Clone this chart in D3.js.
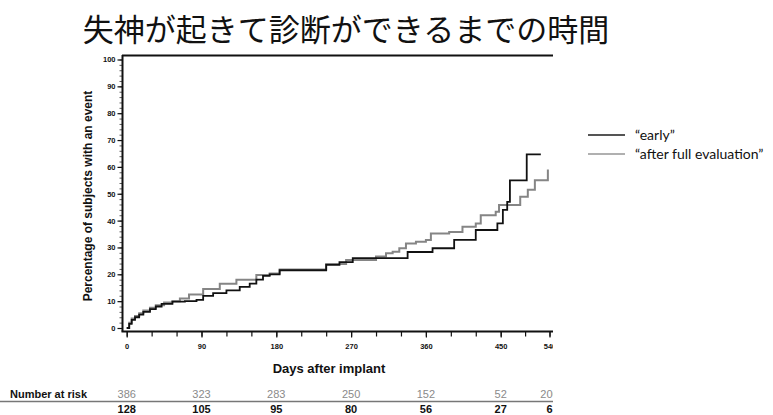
<!DOCTYPE html>
<html>
<head>
<meta charset="utf-8">
<script src="https://cdn.jsdelivr.net/npm/d3@7"></script>
<style>
  html, body { margin: 0; padding: 0; background: #fff; }
  svg { display: block; }
</style>
</head>
<body>
<svg id="chart" width="773" height="415"></svg>
<script>
// Kaplan–Meier style step curves: percentage of subjects with an event
const title = "失神が起きて診断ができるまでの時間";
const xTickValues = [0, 90, 180, 270, 360, 450, 540];
const xMinorValues = [0, 30, 60, 90, 120, 150, 180, 210, 240, 270, 300, 330, 360, 390, 420, 450, 495, 540];
const yTickValues = [0, 10, 20, 30, 40, 50, 60, 70, 80, 90, 100];
const seriesNames = ["“early”", "“after full evaluation”"];

// "early" group: [day, percent]
const earlyDays = [0, 3, 6, 10, 15, 20, 28, 35, 42, 55, 70, 84, 92, 104, 120, 136, 148, 156, 164, 172, 184, 240, 256, 272, 338, 368, 394, 420, 446, 454, 462, 467, 498, 524];
const earlyPct  = [0, 1.5, 3, 4, 5, 6, 7, 8, 9, 9.8, 10, 10.5, 12, 13, 14, 15.3, 16.5, 18, 19.4, 20, 21.5, 23.5, 24.5, 26, 28.3, 29.7, 32.8, 36.5, 39, 44, 47, 55, 64.7, 64.7];

// "after full evaluation" group: [day, percent]
const lateDays = [0, 3, 6, 10, 15, 20, 28, 35, 45, 55, 64, 75, 92, 112, 132, 156, 172, 184, 240, 264, 300, 312, 320, 328, 336, 348, 360, 366, 388, 404, 420, 426, 444, 448, 486, 500, 513, 537];
const latePct  = [0, 2, 3.5, 4.5, 5.5, 6.5, 7.5, 8.5, 9.5, 10, 11, 12.5, 14.5, 16.5, 18, 19.7, 20.3, 21.8, 23.8, 25.3, 26.6, 27.8, 28.4, 29.7, 31.5, 32.1, 32.8, 35.2, 35.8, 37.7, 38.9, 42, 43.3, 45.8, 48.9, 51.5, 55, 59];

// Number at risk under each x tick
const riskLate  = ["386", "323", "283", "250", "152", "52", "206"];
const riskEarly = ["128", "105", "95", "80", "56", "27", "6"];

const svg = d3.select("#chart");

// The last 90-day interval of the axis is drawn narrower than the others
const x = d3.scaleLinear().domain([0, 450, 540]).range([126.7, 500.7, 549.5]);
const y = d3.scaleLinear().domain([0, 100]).range([328, 59.5]);

// Title
svg.append("text")
  .attr("x", 346).attr("y", 41)
  .attr("text-anchor", "middle")
  .attr("font-family", "'Noto Sans CJK JP', sans-serif")
  .attr("font-size", 31)
  .attr("fill", "#111")
  .text(title);

// Chart body, cropped on the right
svg.append("defs").append("clipPath").attr("id", "crop")
  .append("rect").attr("x", 0).attr("y", 44).attr("width", 553).attr("height", 371);
const g = svg.append("g").attr("clip-path", "url(#crop)");

const tickFont = "'Liberation Sans Narrow', 'Liberation Sans', Arial, sans-serif";

// Top frame line
g.append("line")
  .attr("x1", 122).attr("x2", 600)
  .attr("y1", 55.5).attr("y2", 55.5)
  .attr("stroke", "#111").attr("stroke-width", 2.2);

// Y axis with dense minor ticks
const yAxisX = 122.5;
const yMinor = d3.range(0, 101, 2);
g.append("g")
  .attr("transform", `translate(${yAxisX},0)`)
  .call(d3.axisLeft(y).tickValues(yMinor).tickSize(3).tickFormat(""))
  .call(a => a.select(".domain").remove())
  .call(a => a.selectAll("line").attr("stroke", "#333").attr("stroke-width", 0.8));
g.append("g")
  .attr("transform", `translate(${yAxisX},0)`)
  .call(d3.axisLeft(y).tickValues(yTickValues).tickSize(5).tickPadding(2).tickFormat(d3.format("d")))
  .call(a => a.select(".domain").attr("d", `M0,${55}V${331.5}`).attr("stroke", "#111").attr("stroke-width", 2))
  .call(a => a.selectAll("line").attr("stroke", "#111").attr("stroke-width", 1.2))
  .call(a => a.selectAll("text").attr("font-family", tickFont).attr("font-size", 7.5).attr("font-weight", "bold").attr("fill", "#111"));

// X axis with minor ticks
const xAxisY = 331.5;
g.append("g")
  .attr("transform", `translate(0,${xAxisY})`)
  .call(d3.axisBottom(x).tickValues(xMinorValues).tickSize(5).tickFormat(""))
  .call(a => a.select(".domain").attr("d", `M${121.5},0H${600}`).attr("stroke", "#111").attr("stroke-width", 2))
  .call(a => a.selectAll("line").attr("stroke", "#111").attr("stroke-width", 1.2));
g.append("g")
  .attr("transform", `translate(0,${xAxisY})`)
  .call(d3.axisBottom(x).tickValues(xTickValues).tickSize(6).tickPadding(6).tickFormat(d3.format("d")))
  .call(a => a.select(".domain").remove())
  .call(a => a.selectAll("line").attr("stroke", "#111").attr("stroke-width", 1.2))
  .call(a => a.selectAll("text").attr("font-family", tickFont).attr("font-size", 7.5).attr("font-weight", "bold").attr("fill", "#111"));

// Axis titles
g.append("text")
  .attr("x", 329).attr("y", 373)
  .attr("text-anchor", "middle")
  .attr("font-family", "'Liberation Sans', Arial, sans-serif")
  .attr("font-weight", "bold").attr("font-size", 13)
  .attr("fill", "#111")
  .text("Days after implant");
g.append("text")
  .attr("transform", "translate(92,196) rotate(-90)")
  .attr("text-anchor", "middle")
  .attr("font-family", "'Liberation Sans', Arial, sans-serif")
  .attr("font-weight", "bold").attr("font-size", 12)
  .attr("fill", "#111")
  .text("Percentage of subjects with an event");

// Step curves
const line = d3.line().curve(d3.curveStepAfter).x(d => x(d[0])).y(d => y(d[1]));
const lateData = lateDays.map((d, i) => [d, latePct[i]]);
const earlyData = earlyDays.map((d, i) => [d, earlyPct[i]]);

g.append("path").datum(lateData)
  .attr("d", line).attr("fill", "none")
  .attr("stroke", "#858585").attr("stroke-width", 2);
g.append("path").datum(earlyData)
  .attr("d", line).attr("fill", "none")
  .attr("stroke", "#111").attr("stroke-width", 1.8);

// Number at risk table
g.append("text")
  .attr("x", 10).attr("y", 398)
  .attr("font-family", "'Liberation Sans Narrow', 'Liberation Sans', Arial, sans-serif")
  .attr("font-weight", "bold").attr("font-size", 11)
  .attr("fill", "#111")
  .text("Number at risk");
g.append("line")
  .attr("x1", 0).attr("x2", 600).attr("y1", 401.5).attr("y2", 401.5)
  .attr("stroke", "#777").attr("stroke-width", 1.5);
g.selectAll("text.risk-late").data(riskLate).join("text")
  .attr("class", "risk-late")
  .attr("x", (d, i) => x(xTickValues[i])).attr("y", 398)
  .attr("text-anchor", "middle")
  .attr("font-family", "'Liberation Sans', Arial, sans-serif")
  .attr("font-size", 11).attr("fill", "#8a8a8a")
  .text(d => d);
g.selectAll("text.risk-early").data(riskEarly).join("text")
  .attr("class", "risk-early")
  .attr("x", (d, i) => x(xTickValues[i])).attr("y", 413)
  .attr("text-anchor", "middle")
  .attr("font-family", "'Liberation Sans', Arial, sans-serif")
  .attr("font-weight", "bold").attr("font-size", 11).attr("fill", "#111")
  .text(d => d);

// Legend
const legendColors = ["#555", "#b0b0b0"];
const legend = svg.append("g").attr("transform", "translate(588,135)");
seriesNames.forEach((name, i) => {
  const row = legend.append("g").attr("transform", `translate(0,${i * 19})`);
  row.append("line").attr("x1", 0).attr("x2", 37).attr("y1", 0).attr("y2", 0)
    .attr("stroke", legendColors[i]).attr("stroke-width", 2);
  row.append("text").attr("x", 47).attr("y", 4.5)
    .attr("font-family", "Lato, 'Open Sans', sans-serif")
    .attr("font-size", 14).attr("fill", "#111")
    .text(name);
});
</script>
</body>
</html>
